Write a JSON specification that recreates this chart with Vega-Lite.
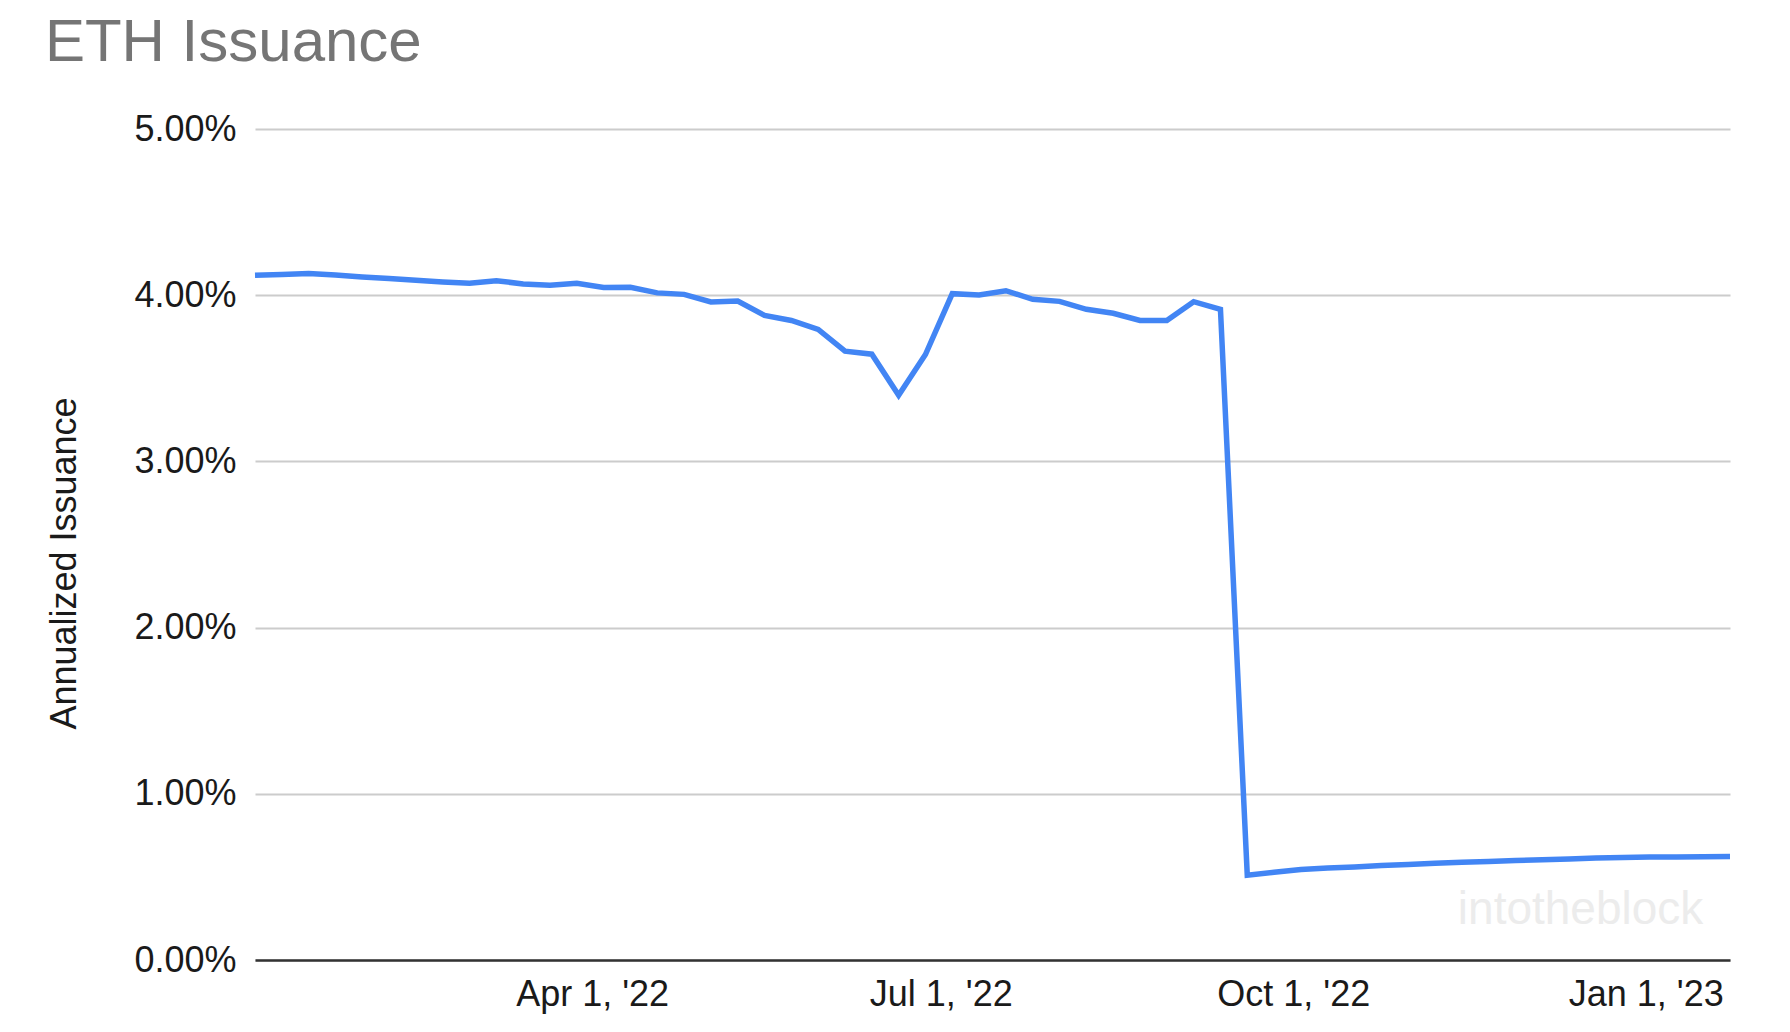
{
  "$schema": "https://vega.github.io/schema/vega-lite/v6.json",
  "width": 1475,
  "height": 831,
  "autosize": {"type": "none"},
  "padding": {"left": 255, "top": 129, "right": 60, "bottom": 72},
  "background": "white",
  "title": {
    "text": "ETH Issuance",
    "anchor": "start",
    "font": "Liberation Sans",
    "fontSize": 60,
    "fontWeight": "normal",
    "color": "#757575",
    "dx": -2,
    "dy": 60,
    "offset": 50,
    "baseline": "alphabetic"
  },
  "config": {
    "view": {"stroke": null},
    "axis": {
      "labelFont": "Liberation Sans",
      "titleFont": "Liberation Sans",
      "labelFontSize": 36,
      "labelColor": "#1a1a1a",
      "titleColor": "#1a1a1a",
      "titleFontWeight": "normal",
      "ticks": false
    }
  },
  "layer": [
    {
      "data": {
        "values": [
          {"date": "2022-12-15", "value": 0.003, "label": "intotheblock"}
        ]
      },
      "mark": {"type": "text", "font": "Liberation Sans", "fontSize": 46, "color": "#ececec", "align": "center", "baseline": "middle"},
      "encoding": {
        "x": {"field": "date", "type": "temporal"},
        "y": {"field": "value", "type": "quantitative"},
        "text": {"field": "label"}
      }
    },
    {
      "data": {
        "values": [
          {"date": "2022-01-03", "issuance": 0.04120},
          {"date": "2022-01-10", "issuance": 0.04125},
          {"date": "2022-01-17", "issuance": 0.04130},
          {"date": "2022-01-24", "issuance": 0.04122},
          {"date": "2022-01-31", "issuance": 0.04110},
          {"date": "2022-02-07", "issuance": 0.04100},
          {"date": "2022-02-14", "issuance": 0.04090},
          {"date": "2022-02-21", "issuance": 0.04080},
          {"date": "2022-02-28", "issuance": 0.04072},
          {"date": "2022-03-07", "issuance": 0.04087},
          {"date": "2022-03-14", "issuance": 0.04068},
          {"date": "2022-03-21", "issuance": 0.04060},
          {"date": "2022-03-28", "issuance": 0.04072},
          {"date": "2022-04-04", "issuance": 0.04046},
          {"date": "2022-04-11", "issuance": 0.04048},
          {"date": "2022-04-18", "issuance": 0.04014},
          {"date": "2022-04-25", "issuance": 0.04005},
          {"date": "2022-05-02", "issuance": 0.03959},
          {"date": "2022-05-09", "issuance": 0.03965},
          {"date": "2022-05-16", "issuance": 0.03878},
          {"date": "2022-05-23", "issuance": 0.03848},
          {"date": "2022-05-30", "issuance": 0.03794},
          {"date": "2022-06-06", "issuance": 0.03663},
          {"date": "2022-06-13", "issuance": 0.03645},
          {"date": "2022-06-20", "issuance": 0.03398},
          {"date": "2022-06-27", "issuance": 0.03643},
          {"date": "2022-07-04", "issuance": 0.04009},
          {"date": "2022-07-11", "issuance": 0.04001},
          {"date": "2022-07-18", "issuance": 0.04027},
          {"date": "2022-07-25", "issuance": 0.03975},
          {"date": "2022-08-01", "issuance": 0.03963},
          {"date": "2022-08-08", "issuance": 0.03915},
          {"date": "2022-08-15", "issuance": 0.03891},
          {"date": "2022-08-22", "issuance": 0.03848},
          {"date": "2022-08-29", "issuance": 0.03848},
          {"date": "2022-09-05", "issuance": 0.03961},
          {"date": "2022-09-12", "issuance": 0.03915},
          {"date": "2022-09-19", "issuance": 0.00510},
          {"date": "2022-09-26", "issuance": 0.00528},
          {"date": "2022-10-03", "issuance": 0.00545},
          {"date": "2022-10-10", "issuance": 0.00553},
          {"date": "2022-10-17", "issuance": 0.00560},
          {"date": "2022-10-24", "issuance": 0.00568},
          {"date": "2022-10-31", "issuance": 0.00575},
          {"date": "2022-11-07", "issuance": 0.00582},
          {"date": "2022-11-14", "issuance": 0.00588},
          {"date": "2022-11-21", "issuance": 0.00593},
          {"date": "2022-11-28", "issuance": 0.00598},
          {"date": "2022-12-05", "issuance": 0.00603},
          {"date": "2022-12-12", "issuance": 0.00608},
          {"date": "2022-12-19", "issuance": 0.00613},
          {"date": "2022-12-26", "issuance": 0.00617},
          {"date": "2023-01-02", "issuance": 0.00619},
          {"date": "2023-01-09", "issuance": 0.00620},
          {"date": "2023-01-16", "issuance": 0.00621},
          {"date": "2023-01-23", "issuance": 0.00622}
        ]
      },
      "mark": {"type": "line", "color": "#4285F4", "strokeWidth": 5.5},
      "encoding": {
        "x": {
          "field": "date",
          "type": "temporal",
          "scale": {
            "type": "utc",
            "domain": [
              {"year": 2022, "month": 1, "date": 3, "utc": true},
              {"year": 2023, "month": 1, "date": 23, "utc": true}
            ]
          },
          "axis": {
            "title": null,
            "grid": false,
            "domain": true,
            "domainColor": "#333333",
            "domainWidth": 2.5,
            "labelPadding": 17,
            "format": "%b %-d, '%y",
            "values": [
              {"year": 2022, "month": 4, "date": 1, "utc": true},
              {"year": 2022, "month": 7, "date": 1, "utc": true},
              {"year": 2022, "month": 10, "date": 1, "utc": true},
              {"year": 2023, "month": 1, "date": 1, "utc": true}
            ]
          }
        },
        "y": {
          "field": "issuance",
          "type": "quantitative",
          "scale": {"domain": [0, 0.05], "nice": false},
          "axis": {
            "title": "Annualized Issuance",
            "titleFontSize": 36,
            "titlePadding": 50,
            "titleY": 434,
            "values": [0, 0.01, 0.02, 0.03, 0.04, 0.05],
            "format": ".2%",
            "grid": true,
            "gridColor": "#cccccc",
            "gridWidth": 2,
            "domain": false,
            "labelPadding": 19
          }
        }
      }
    }
  ]
}
